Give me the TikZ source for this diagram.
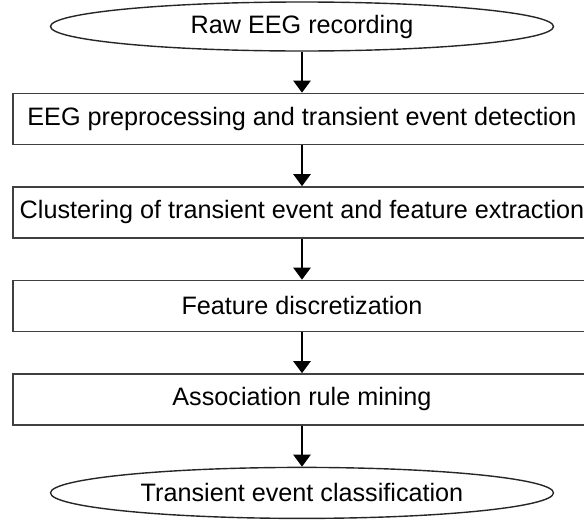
\documentclass[tikz,border=0pt]{standalone}
\usepackage{fontspec}
\setmainfont{Liberation Sans}
\usetikzlibrary{shapes.geometric,arrows.meta,positioning}

\begin{document}
\begin{tikzpicture}[
    node distance=20.5pt,
    terminal/.style={ellipse, draw=black!85, line width=0.7pt, minimum width=251.5pt, minimum height=24.5pt, inner sep=0pt, font=\fontsize{12.6}{15}\selectfont},
    process/.style={rectangle, draw=black!75, line width=0.75pt, minimum width=289pt, minimum height=25.5pt, inner sep=0pt, font=\fontsize{12.6}{15}\selectfont},
    arrow/.style={-{Triangle[width=8.5pt,length=6pt]}, line width=1.2pt}
]
    \useasboundingbox (0,0) rectangle (292pt,-262.5pt);

    % Input
    \node[terminal] (raw) at (151pt,-13.25pt) {Raw EEG recording};

    % Processing steps
    \node[process, below=of raw] (prep) {EEG preprocessing and transient event detection};
    \node[process, below=of prep] (clust) {Clustering of transient event and feature extraction};
    \node[process, below=of clust] (discr) {Feature discretization};
    \node[process, below=of discr] (rules) {Association rule mining};

    % Output
    \node[terminal, below=of rules, minimum height=25.5pt] (classif) {Transient event classification};

    % Connections
    \draw[arrow] (raw) -- (prep);
    \draw[arrow] (prep) -- (clust);
    \draw[arrow] (clust) -- (discr);
    \draw[arrow] (discr) -- (rules);
    \draw[arrow] (rules) -- (classif);
\end{tikzpicture}
\end{document}
